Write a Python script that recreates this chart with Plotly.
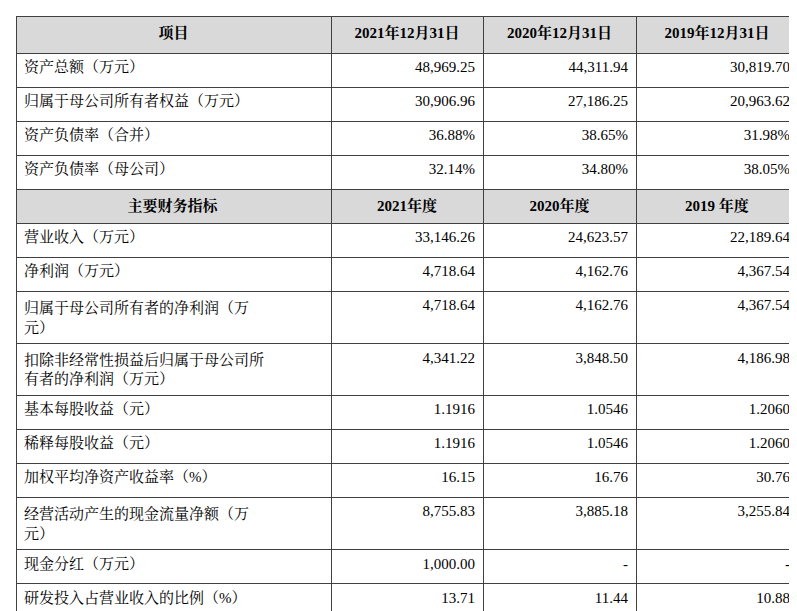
import plotly.graph_objects as go

header = ["项目", "2021年12月31日", "2020年12月31日", "2019年12月31日"]
items = ["资产总额（万元）", "归属于母公司所有者权益（万元）", "资产负债率（合并）", "资产负债率（母公司）",
         "主要财务指标", "营业收入（万元）", "净利润（万元）", "归属于母公司所有者的净利润（万<br>元）",
         "扣除非经常性损益后归属于母公司所<br>有者的净利润（万元）", "基本每股收益（元）", "稀释每股收益（元）",
         "加权平均净资产收益率（%）", "经营活动产生的现金流量净额（万<br>元）", "现金分红（万元）",
         "研发投入占营业收入的比例（%）"]
y2021 = ["48,969.25", "30,906.96", "36.88%", "32.14%", "2021年度", "33,146.26", "4,718.64", "4,718.64",
         "4,341.22", "1.1916", "1.1916", "16.15", "8,755.83", "1,000.00", "13.71"]
y2020 = ["44,311.94", "27,186.25", "38.65%", "34.80%", "2020年度", "24,623.57", "4,162.76", "4,162.76",
         "3,848.50", "1.0546", "1.0546", "16.76", "3,885.18", "-", "11.44"]
y2019 = ["30,819.70", "20,963.62", "31.98%", "38.05%", "2019 年度", "22,189.64", "4,367.54", "4,367.54",
         "4,186.98", "1.2060", "1.2060", "30.76", "3,255.84", "-", "10.88"]

sub = 4  # second header row
cols = [items, y2021, y2020, y2019]
cols = [[f"<b>{v}</b>" if i == sub else v for i, v in enumerate(c)] for c in cols]
fills = [["#d9d9d9" if i == sub else "white" for i in range(len(items))] for _ in cols]
aligns = [["center" if i == sub else ("left" if j == 0 else "right") for i in range(len(items))]
          for j in range(4)]

font = dict(family="Liberation Serif, Noto Serif CJK SC, Noto Sans CJK SC", size=15, color="black")
table = dict(
    type="table",
    columnwidth=[315, 152, 153, 162],
    header=dict(values=[f"<b>{h}</b>" for h in header], fill=dict(color="#d9d9d9"), align="center",
                line=dict(color="#404040", width=1), font=font, height=37),
    cells=dict(values=cols, fill=dict(color=fills), align=aligns,
               line=dict(color="#404040", width=1), font=font, height=34),
)
layout = dict(width=797, height=611, margin=dict(l=8, r=7, t=8, b=0), paper_bgcolor="white")
fig = go.Figure(dict(data=[table], layout=layout), _validate=False)
fig.write_html("out.html")
